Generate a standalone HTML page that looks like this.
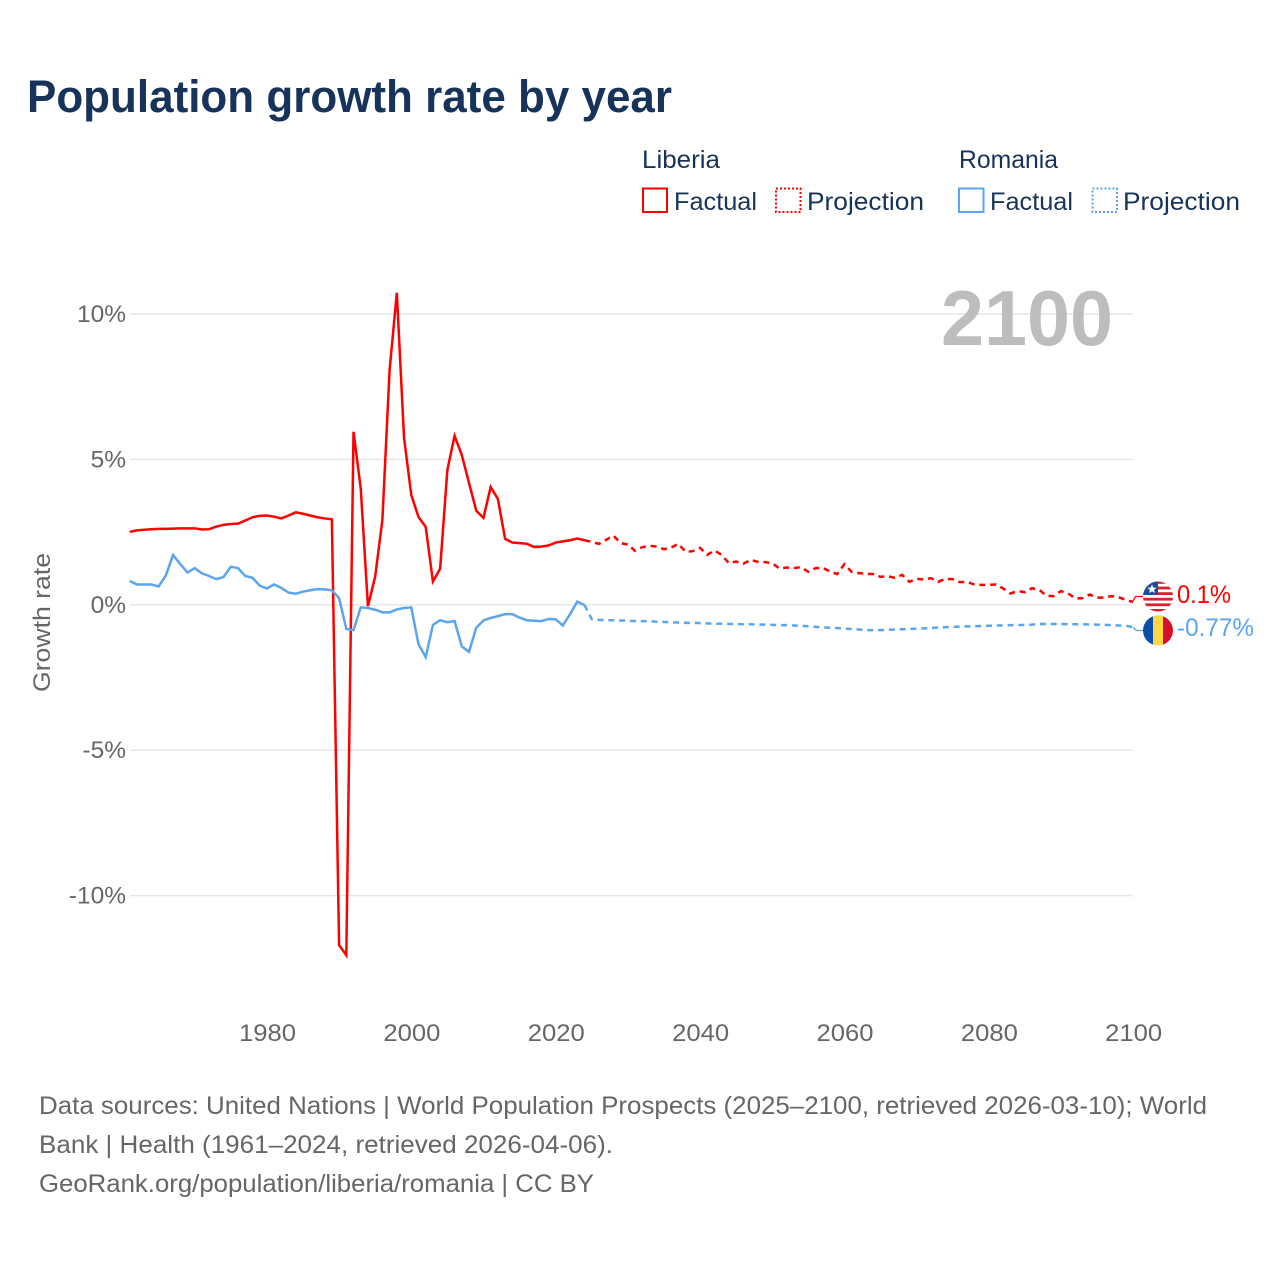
<!DOCTYPE html>
<html lang="en">
<head>
<meta charset="utf-8">
<title>Population growth rate by year</title>
<style>
html,body{margin:0;padding:0;background:#fff;width:1280px;height:1280px;overflow:hidden}
svg{display:block}
text{font-family:"Liberation Sans",sans-serif}
.title{font-size:45px;font-weight:700;fill:#17335a}
.leg{font-size:25px;fill:#17335a}
.tick{font-size:24.5px;fill:#666}
.foot{font-size:25px;fill:#666}
</style>
</head>
<body>
<svg id="chart" xmlns="http://www.w3.org/2000/svg" width="1280" height="1280" viewBox="0 0 1280 1280">
  <defs>
    <clipPath id="clip-lr"><circle cx="1158" cy="596.5" r="15"/></clipPath>
    <clipPath id="clip-ro"><circle cx="1158" cy="630.5" r="15"/></clipPath>
  </defs>
  <rect width="1280" height="1280" fill="#fff"/>
  <text class="title" x="27" y="112" textLength="645" lengthAdjust="spacingAndGlyphs">Population growth rate by year</text>

  <g>
    <text class="leg" x="642" y="168" textLength="78" lengthAdjust="spacingAndGlyphs">Liberia</text>
    <text class="leg" x="959" y="168" textLength="99" lengthAdjust="spacingAndGlyphs">Romania</text>
    <rect x="643" y="188.5" width="24" height="23.5" fill="none" stroke="#ff0000" stroke-width="2"/>
    <text class="leg" x="674" y="210" textLength="83" lengthAdjust="spacingAndGlyphs">Factual</text>
    <rect x="776" y="188.5" width="24.5" height="23.5" fill="none" stroke="#ff0000" stroke-width="2" stroke-dasharray="2,2"/>
    <text class="leg" x="807" y="210" textLength="117" lengthAdjust="spacingAndGlyphs">Projection</text>
    <rect x="959" y="188.5" width="24.5" height="23.5" fill="none" stroke="#5ba4ee" stroke-width="2"/>
    <text class="leg" x="990" y="210" textLength="83" lengthAdjust="spacingAndGlyphs">Factual</text>
    <rect x="1092.5" y="188.5" width="24.5" height="23.5" fill="none" stroke="#5ba4ee" stroke-width="2" stroke-dasharray="2,2"/>
    <text class="leg" x="1123" y="210" textLength="117" lengthAdjust="spacingAndGlyphs">Projection</text>
  </g>

  <g id="grid"></g>
  <g id="yticks"></g>
  <g id="xticks"></g>

  <text x="1027" y="345" text-anchor="middle" font-size="78" font-weight="700" fill="#bdbdbd" textLength="172" lengthAdjust="spacingAndGlyphs">2100</text>
  <text class="tick" transform="translate(50 622.5) rotate(-90)" text-anchor="middle" font-size="25" textLength="139" lengthAdjust="spacingAndGlyphs">Growth rate</text>

  <g id="series"></g>

  <path d="M1133 601 L1135.5 596.5 L1143 596.5" fill="none" stroke="#ff0000" stroke-width="1.2"/>
  <path d="M1133 627.5 L1136.5 630.5 L1143 630.5" fill="none" stroke="#5ba4ee" stroke-width="1.2"/>

  <g clip-path="url(#clip-lr)">
    <rect x="1143" y="581" width="30" height="31" fill="#fff"/>
    <rect x="1143" y="581" width="30" height="2.8" fill="#d8222e"/>
    <rect x="1143" y="586.6" width="30" height="2.8" fill="#d8222e"/>
    <rect x="1143" y="592.2" width="30" height="2.8" fill="#d8222e"/>
    <rect x="1143" y="597.8" width="30" height="2.8" fill="#d8222e"/>
    <rect x="1143" y="603.4" width="30" height="2.8" fill="#d8222e"/>
    <rect x="1143" y="609" width="30" height="3" fill="#d8222e"/>
    <rect x="1143" y="581" width="15" height="14" fill="#1f4f9c"/>
    <polygon points="1152,584.5 1153.3,587.6 1156.5,587.8 1154,589.9 1154.9,593 1152,591.3 1149.1,593 1150,589.9 1147.5,587.8 1150.7,587.6" fill="#fff"/>
  </g>
  <g clip-path="url(#clip-ro)">
    <rect x="1143" y="615" width="10" height="31" fill="#0a50a8"/>
    <rect x="1153" y="615" width="10" height="31" fill="#fdd644"/>
    <rect x="1163" y="615" width="10" height="31" fill="#d5102e"/>
  </g>

  <text x="1177" y="603" font-size="25" fill="#ff0000" textLength="54" lengthAdjust="spacingAndGlyphs">0.1%</text>
  <text x="1177" y="636" font-size="25" fill="#5ba4ee" textLength="77" lengthAdjust="spacingAndGlyphs">-0.77%</text>

  <g>
    <text class="foot" x="39" y="1114" textLength="1168" lengthAdjust="spacingAndGlyphs">Data sources: United Nations | World Population Prospects (2025–2100, retrieved 2026-03-10); World</text>
    <text class="foot" x="39" y="1153" textLength="574" lengthAdjust="spacingAndGlyphs">Bank | Health (1961–2024, retrieved 2026-04-06).</text>
    <text class="foot" x="39" y="1192" textLength="555" lengthAdjust="spacingAndGlyphs">GeoRank.org/population/liberia/romania | CC BY</text>
  </g>
</svg>
<script>
const factualStartYear = 1961;
const projectionStartYear = 2024;
const xTickLabels = [1980, 2000, 2020, 2040, 2060, 2080, 2100];
const yTickLabels = [10, 5, 0, -5, -10];

const liberiaFactual = [2.51,2.56,2.58,2.60,2.61,2.61,2.62,2.63,2.63,2.63,2.59,2.60,2.69,2.75,2.78,2.79,2.90,3.01,3.06,3.07,3.03,2.97,3.07,3.18,3.13,3.07,3.01,2.97,2.94,-11.7,-12.05,5.95,4.0,-0.05,0.97,2.92,8.08,10.73,5.74,3.78,3.02,2.68,0.8,1.24,4.64,5.81,5.15,4.19,3.24,2.99,4.05,3.64,2.27,2.14,2.12,2.10,1.99,2.0,2.04,2.14,2.18,2.22,2.28,2.22];

const romaniaFactual = [0.82,0.70,0.70,0.70,0.63,1.01,1.71,1.40,1.11,1.26,1.08,0.99,0.88,0.96,1.31,1.26,0.99,0.93,0.66,0.56,0.70,0.58,0.42,0.38,0.45,0.50,0.54,0.53,0.50,0.23,-0.83,-0.87,-0.09,-0.11,-0.17,-0.26,-0.26,-0.16,-0.11,-0.09,-1.35,-1.80,-0.69,-0.53,-0.60,-0.56,-1.43,-1.62,-0.79,-0.54,-0.45,-0.39,-0.32,-0.32,-0.44,-0.53,-0.55,-0.56,-0.49,-0.50,-0.71,-0.32,0.11,-0.01];

const liberiaProjection = [2.22,2.165,2.096,2.234,2.383,2.119,2.073,1.856,1.981,2.027,2.004,1.912,1.970,2.096,1.821,1.844,1.959,1.718,1.867,1.718,1.432,1.489,1.409,1.546,1.478,1.466,1.432,1.249,1.283,1.260,1.295,1.134,1.260,1.272,1.146,1.054,1.398,1.134,1.089,1.065,1.054,0.962,0.985,0.928,1.031,0.790,0.893,0.870,0.916,0.790,0.893,0.882,0.779,0.790,0.699,0.687,0.687,0.699,0.561,0.390,0.470,0.435,0.573,0.515,0.309,0.298,0.470,0.390,0.218,0.229,0.355,0.241,0.252,0.298,0.264,0.160,0.10];

const romaniaProjection = [-0.01,-0.49,-0.52,-0.53,-0.53,-0.54,-0.55,-0.56,-0.56,-0.57,-0.58,-0.59,-0.60,-0.61,-0.62,-0.62,-0.63,-0.64,-0.65,-0.65,-0.66,-0.66,-0.67,-0.67,-0.68,-0.68,-0.69,-0.70,-0.70,-0.71,-0.72,-0.74,-0.76,-0.78,-0.79,-0.80,-0.82,-0.83,-0.85,-0.87,-0.87,-0.87,-0.86,-0.85,-0.84,-0.83,-0.82,-0.81,-0.80,-0.78,-0.77,-0.76,-0.75,-0.74,-0.74,-0.73,-0.72,-0.71,-0.71,-0.70,-0.70,-0.69,-0.68,-0.66,-0.66,-0.66,-0.66,-0.67,-0.67,-0.67,-0.68,-0.68,-0.69,-0.70,-0.71,-0.72,-0.77];

const SVG_NS = 'http://www.w3.org/2000/svg';
function xScale(year) { return 266.9 + (year - 1980) * (1133.1 - 266.9) / 120; }
function yScale(pct) { return 604.8 - pct * 29.08; }
function linePath(values, startYear) {
  return values.map(function (v, i) {
    return (i ? 'L' : 'M') + xScale(startYear + i).toFixed(2) + ' ' + yScale(v).toFixed(2);
  }).join(' ');
}
const gridLayer = document.getElementById('grid');
const yTickLayer = document.getElementById('yticks');
const xTickLayer = document.getElementById('xticks');
const seriesLayer = document.getElementById('series');

yTickLabels.forEach(function (t) {
  const line = document.createElementNS(SVG_NS, 'line');
  line.setAttribute('x1', 130);
  line.setAttribute('x2', 1133);
  line.setAttribute('y1', yScale(t));
  line.setAttribute('y2', yScale(t));
  line.setAttribute('stroke', '#e6e6e6');
  line.setAttribute('stroke-width', 1.4);
  
  
  gridLayer.appendChild(line);
  const label = document.createElementNS(SVG_NS, 'text');
  label.setAttribute('class', 'tick');
  label.setAttribute('x', 126);
  label.setAttribute('y', yScale(t) + 8);
  label.setAttribute('text-anchor', 'end');
  label.textContent = t + '%';
  
  
  yTickLayer.appendChild(label);
});

xTickLabels.forEach(function (t) {
  const label = document.createElementNS(SVG_NS, 'text');
  label.setAttribute('class', 'tick');
  label.setAttribute('x', xScale(t) + 0.6);
  label.setAttribute('y', 1041);
  label.setAttribute('text-anchor', 'middle');
  label.setAttribute('textLength', 57);
  label.setAttribute('lengthAdjust', 'spacingAndGlyphs');
  label.textContent = t;
  
  
  xTickLayer.appendChild(label);
});

function addLine(values, startYear, color, dashed) {
  const path = document.createElementNS(SVG_NS, 'path');
  path.setAttribute('d', linePath(values, startYear));
  path.setAttribute('fill', 'none');
  path.setAttribute('stroke', color);
  path.setAttribute('stroke-width', 2.5);
  path.setAttribute('stroke-linejoin', 'miter');
  if (dashed) path.setAttribute('stroke-dasharray', '6,4.8');
  seriesLayer.appendChild(path);
  return path;
}
const liberiaFactualLine = addLine(liberiaFactual, factualStartYear, '#ff0000', false);


const liberiaProjectionLine = addLine(liberiaProjection, projectionStartYear, '#ff0000', true);


const romaniaFactualLine = addLine(romaniaFactual, factualStartYear, '#5ba4ee', false);


const romaniaProjectionLine = addLine(romaniaProjection, projectionStartYear, '#5ba4ee', true);


</script>
</body>
</html>
